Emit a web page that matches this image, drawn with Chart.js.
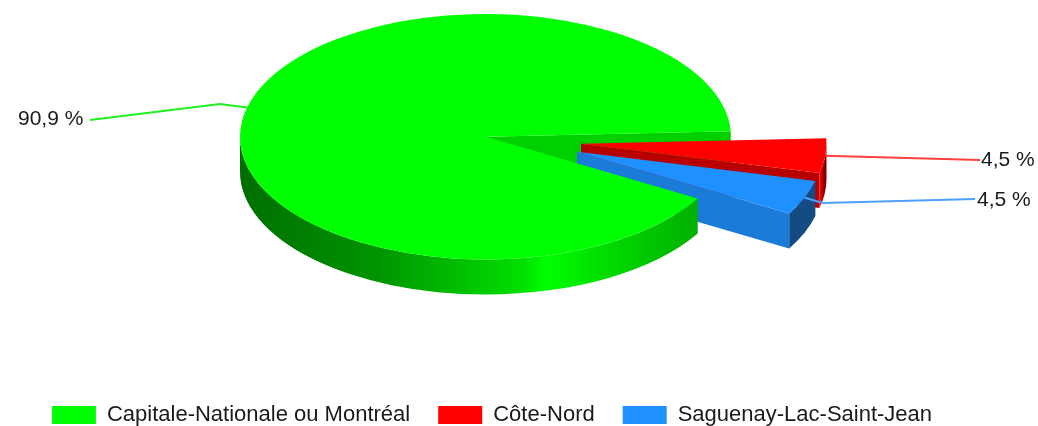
<!DOCTYPE html>
<html>
<head>
<meta charset="utf-8">
<style>
  html, body { margin: 0; padding: 0; background: #fff; }
  canvas { display: block; filter: blur(0.45px); }
</style>
<script src="https://cdn.jsdelivr.net/npm/chart.js@4"></script>
</head>
<body>
<canvas id="pieChart" width="1038" height="426"></canvas>
<script>
const categories = ["Capitale-Nationale ou Montréal", "Côte-Nord", "Saguenay-Lac-Saint-Jean"];
const counts = [20, 1, 1];
const percentLabels = ["90,9 %", "4,5 %", "4,5 %"];

const topColors = ["#00FF00", "#FF0000", "#1E90FF"];
const wallColors = ["#00D000", "#B80000", "#1A7BD9"];
const leaderColors = ["#20F020", "#FF4040", "#4DA0FF"];

const FONT = '"Liberation Sans", Arial, sans-serif';
const cx = 485.5, cy = 136.75, squash = 0.5, depth = 35;
// screen shift of each slice
const shifts = [[0, 0], [95.5, 7], [91.5, 15]];
// elbows + end of leader, then label left/middle
const leaders = [
  { via: [[220, 104], [90, 120]], text: [18, 119] },
  { via: [[980, 160]], text: [981, 160] },
  { via: [[823, 203], [975, 199]], text: [977, 200] },
];

function rimFill(ctx, i) {
  if (i === 0) {
    const g = ctx.createLinearGradient(240, 0, 697, 0);
    g.addColorStop(0, "#006E00");
    g.addColorStop(0.3, "#009400");
    g.addColorStop(0.62, "#00E000");
    g.addColorStop(0.67, "#00FF00");
    g.addColorStop(0.78, "#00E000");
    g.addColorStop(1, "#00B000");
    return g;
  }
  if (i === 1) {
    const g = ctx.createLinearGradient(820, 0, 825, 0);
    g.addColorStop(0, "#FF0000");
    g.addColorStop(1, "#7A0000");
    return g;
  }
  return "#134B82";
}

function drawSide(ctx, arc, i, part) {
  const r = arc.outerRadius, ry = r * squash;
  const x = cx + shifts[i][0], y = cy + shifts[i][1];
  const s = arc.startAngle, e = arc.endAngle;
  ctx.beginPath();
  if (part === "wall") {
    const px = x + Math.cos(e) * r, py = y + Math.sin(e) * ry;
    ctx.moveTo(x, y);
    ctx.lineTo(px, py);
    ctx.lineTo(px, py + depth);
    ctx.lineTo(x, y + depth);
    ctx.fillStyle = wallColors[i];
  } else if (part === "rim") {
    const base = e > Math.PI * 2 ? Math.PI * 2 : 0;
    const from = Math.max(s, base), to = Math.min(e, base + Math.PI);
    ctx.ellipse(x, y, r, ry, 0, from, to);
    ctx.ellipse(x, y + depth, r, ry, 0, to, from, true);
    ctx.fillStyle = rimFill(ctx, i);
  } else {
    ctx.moveTo(x, y);
    ctx.ellipse(x, y, r, ry, 0, s, e);
    ctx.fillStyle = arc.options.backgroundColor;
  }
  ctx.closePath();
  ctx.fill();
}

const pie3d = {
  id: "pie3d",
  beforeDatasetDraw() {
    return false;
  },
  afterDatasetsDraw(chart) {
    const ctx = chart.ctx;
    const arcs = chart.getDatasetMeta(0).data;
    ctx.save();
    drawSide(ctx, arcs[0], 0, "wall");
    [1, 2].forEach((i) => {
      drawSide(ctx, arcs[i], i, "rim");
      drawSide(ctx, arcs[i], i, "wall");
      drawSide(ctx, arcs[i], i, "top");
    });
    drawSide(ctx, arcs[0], 0, "rim");
    drawSide(ctx, arcs[0], 0, "top");

    // leader lines start on the middle of each slice's outer edge
    ctx.lineWidth = 2;
    ctx.font = "21px " + FONT;
    ctx.textBaseline = "middle";
    arcs.forEach((arc, i) => {
      const mid = (arc.startAngle + arc.endAngle) / 2;
      const ax = cx + shifts[i][0] + Math.cos(mid) * arc.outerRadius;
      const ay = cy + shifts[i][1] + Math.sin(mid) * arc.outerRadius * squash;
      ctx.beginPath();
      ctx.moveTo(ax, ay);
      leaders[i].via.forEach((p) => ctx.lineTo(p[0], p[1]));
      ctx.strokeStyle = leaderColors[i];
      ctx.stroke();
      ctx.fillStyle = "#1a1a1a";
      ctx.fillText(percentLabels[i], leaders[i].text[0], leaders[i].text[1]);
    });
    ctx.restore();
  },
};

new Chart(document.getElementById("pieChart"), {
  type: "pie",
  data: {
    labels: categories,
    datasets: [
      {
        data: counts,
        backgroundColor: topColors,
        borderWidth: 0,
        radius: 245.5,
      },
    ],
  },
  options: {
    responsive: false,
    animation: false,
    devicePixelRatio: 1,
    rotation: 120.2,
    layout: {
      padding: { right: 54, bottom: -10 },
    },
    plugins: {
      tooltip: { enabled: false },
      legend: {
        position: "bottom",
        labels: {
          boxWidth: 44,
          boxHeight: 18,
          padding: 28,
          color: "#1a1a1a",
          font: { family: FONT, size: 22 },
        },
      },
    },
  },
  plugins: [pie3d],
});
</script>
</body>
</html>
